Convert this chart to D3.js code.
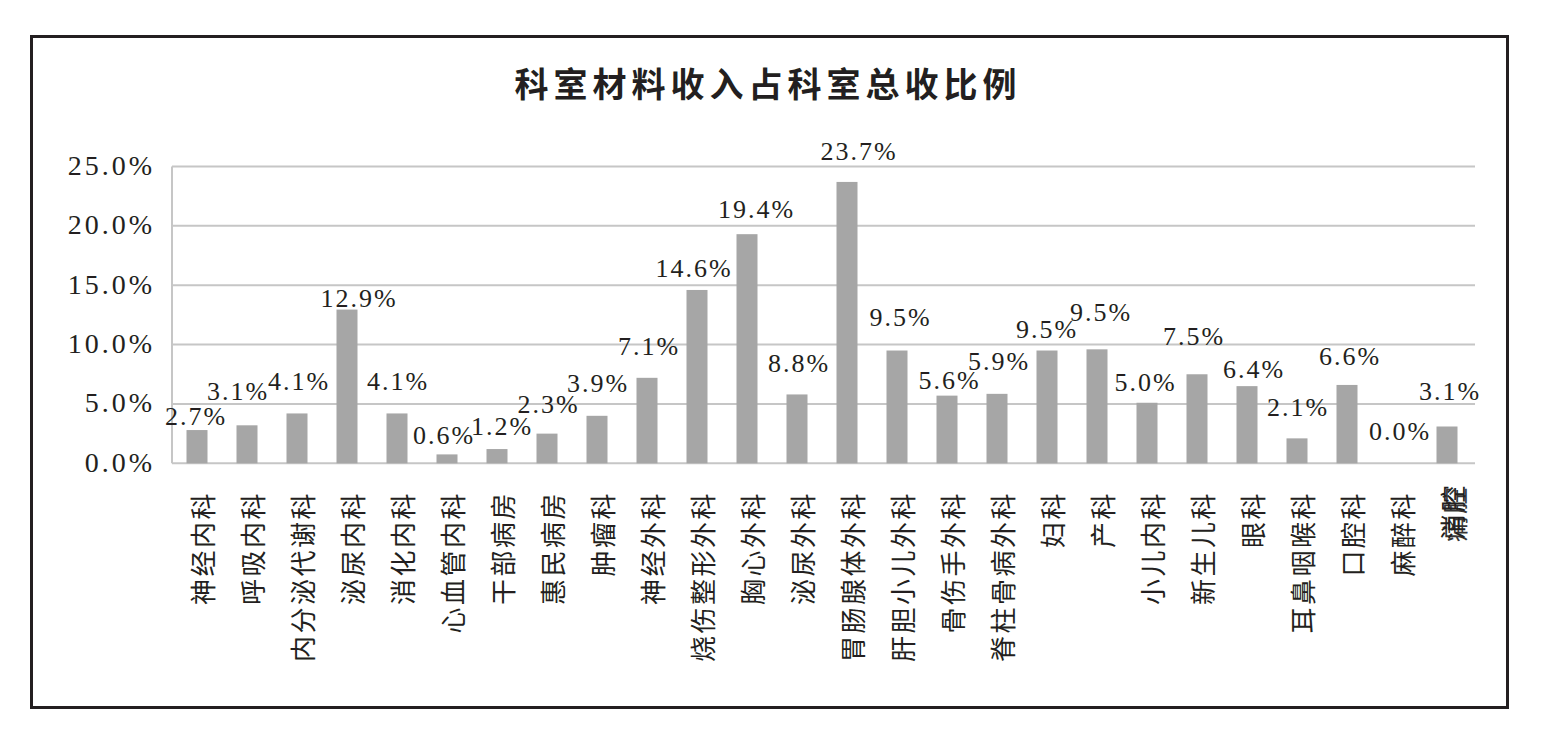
<!DOCTYPE html>
<html><head><meta charset="utf-8">
<script src="https://cdn.jsdelivr.net/npm/d3@7/dist/d3.min.js"></script>
<style>html,body{margin:0;padding:0;background:#fff;}svg{display:block;}</style>
</head><body>
<svg id="chart" width="1544" height="748"></svg>
<script>
const title = "科室材料收入占科室总收比例";
const categories = ["神经内科","呼吸内科","内分泌代谢科","泌尿内科","消化内科","心血管内科","干部病房","惠民病房","肿瘤科","神经外科","烧伤整形外科","胸心外科","泌尿外科","胃肠腺体外科","肝胆小儿外科","骨伤手外科","脊柱骨病外科","妇科","产科","小儿内科","新生儿科","眼科","耳鼻咽喉科","口腔科","麻醉科","消腔"];
// bar heights (percent)
const barValues = [2.8,3.2,4.2,12.95,4.2,0.75,1.2,2.5,4.0,7.2,14.6,19.3,5.8,23.7,9.5,5.7,5.85,9.5,9.6,5.1,7.5,6.5,2.1,6.6,0.0,3.1];
// data label texts as printed in the picture
const labelTexts = ["2.7%","3.1%","4.1%","12.9%","4.1%","0.6%","1.2%","2.3%","3.9%","7.1%","14.6%","19.4%","8.8%","23.7%","9.5%","5.6%","5.9%","9.5%","9.5%","5.0%","7.5%","6.4%","2.1%","6.6%","0.0%","3.1%"];
const yTicks = [0,5,10,15,20,25];
const yTickLabels = ["0.0%","5.0%","10.0%","15.0%","20.0%","25.0%"];
// manual label offsets (layout only): [dx, dy] from bar centre / bar top
const labelOffsets = [[-2,-5],[-10,-25],[1,-23.5],[11,-3],[0,-23.5],[-4,-10],[4,-14],[0.5,-20.6],[0,-24],[1,-23],[-4,-13.4],[8.5,-16],[1,-22],[11,-22],[2.5,-24.6],[1.5,-6.7],[1,-24],[-1,-13],[3,-28.4],[-2.5,-12],[-4,-29],[6,-8.5],[0,-22.4],[2,-20],[2,-23],[2,-26]];

const svg = d3.select("#chart");
const W = 1544, H = 748;
const plot = {left:172, right:1472, top:166.5, bottom:463.3};

// outer frame
svg.append("rect").attr("x",31.5).attr("y",36.5).attr("width",1476).attr("height",671)
  .attr("fill","#fff").attr("stroke","#231f20").attr("stroke-width",3);

// title
svg.append("text").attr("x",768).attr("y",97).attr("text-anchor","middle")
  .attr("font-family","'Noto Sans CJK SC'").attr("font-weight","bold")
  .attr("font-size",34).attr("letter-spacing",5).attr("fill","#231f20")
  .text(title);

const x = d3.scaleBand().domain(d3.range(categories.length))
  .range([plot.left, plot.right]).paddingInner(0.58).paddingOuter(0.29);
const y = d3.scaleLinear().domain([0,25]).range([plot.bottom, plot.top]);

// gridlines
svg.append("g").selectAll("line").data(yTicks).join("line")
  .attr("x1",plot.left).attr("x2",1475)
  .attr("y1",d=>y(d)).attr("y2",d=>y(d))
  .attr("stroke","#c6c6c6").attr("stroke-width",2);
// y axis line
svg.append("line").attr("x1",plot.left).attr("x2",plot.left)
  .attr("y1",y(25)).attr("y2",y(0)).attr("stroke","#c6c6c6").attr("stroke-width",2);

// y tick labels
svg.append("g").selectAll("text").data(yTicks).join("text")
  .attr("x",155).attr("y",d=>y(d)+8.5).attr("text-anchor","end")
  .attr("font-family","'Liberation Serif'").attr("font-size",28).attr("letter-spacing",3)
  .attr("fill","#231f20")
  .text((d,i)=>yTickLabels[i]);

// bars
svg.append("g").selectAll("rect").data(barValues).join("rect")
  .attr("x",(d,i)=>x(i)).attr("width",x.bandwidth())
  .attr("y",d=>y(d)).attr("height",d=>y(0)-y(d))
  .attr("fill","#a6a6a6");

// data labels
svg.append("g").selectAll("text").data(barValues).join("text")
  .attr("x",(d,i)=>x(i)+x.bandwidth()/2+labelOffsets[i][0]+1)
  .attr("y",(d,i)=>y(d)+labelOffsets[i][1])
  .attr("text-anchor","middle")
  .attr("font-family","'Liberation Serif'").attr("font-size",26).attr("letter-spacing",2)
  .attr("fill","#231f20")
  .text((d,i)=>labelTexts[i]);

// category labels (vertical)
const catG = svg.append("g");
catG.selectAll("text").data(categories).join("text")
  .attr("transform",(d,i)=>`translate(${x(i)+x.bandwidth()/2+4},${i===categories.length-1?483:491}) rotate(-90)`)
  .attr("text-anchor","end").attr("dominant-baseline","central")
  .attr("font-family","'Noto Sans CJK SC'").attr("font-size",26).attr("letter-spacing",2.5)
  .attr("fill","#231f20")
  .text(d=>d);
// overlapping glyph on the last category label, as in the source image
const li = categories.length-1;
catG.append("text")
  .attr("transform",`translate(${x(li)+x.bandwidth()/2+6},${485}) rotate(-90)`)
  .attr("text-anchor","end").attr("dominant-baseline","central")
  .attr("font-family","'Noto Sans CJK SC'").attr("font-size",26).attr("letter-spacing",2.5)
  .attr("fill","#231f20").attr("opacity",0.9)
  .text("痛腔");
</script>
</body></html>
